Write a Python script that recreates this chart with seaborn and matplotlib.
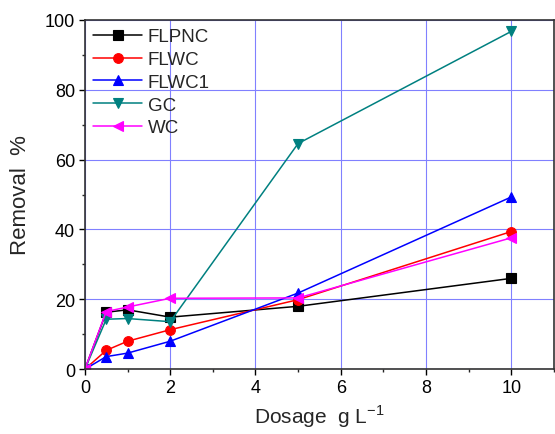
import matplotlib
matplotlib.use("Agg")
import matplotlib.pyplot as plt
import seaborn as sns
import pandas as pd
from matplotlib.ticker import MultipleLocator

dosage = [0, 0.5, 1, 2, 5, 10]
flpnc = [0, 16.3, 17.0, 14.9, 18.0, 26.0]
flwc = [0, 5.4, 8.0, 11.3, 19.9, 39.4]
flwc1 = [0, 3.6, 4.6, 8.0, 21.8, 49.3]
gc = [0, 14.3, 14.5, 13.6, 64.6, 96.7]
wc = [0, 16.5, 17.8, 20.3, 20.4, 37.6]

names = ["FLPNC", "FLWC", "FLWC1", "GC", "WC"]
series = [flpnc, flwc, flwc1, gc, wc]
colors = ["black", "red", "blue", "#008080", "magenta"]
markers = ["s", "o", "^", "v", "<"]

sns.set_theme(style="white")
plt.rcParams["font.family"] = ["Liberation Sans", "DejaVu Sans"]

fig = plt.figure(figsize=(5.55, 4.35), dpi=100)
ax = fig.add_axes([0.153, 0.149, 0.845, 0.803])

for name, vals, c, m in zip(names, series, colors, markers):
    df = pd.DataFrame({"Dosage": dosage, "Removal": vals})
    sns.lineplot(data=df, x="Dosage", y="Removal", ax=ax, color=c, marker=m,
                 markersize=7, markeredgecolor=c, markeredgewidth=0.8,
                 linewidth=1.1, label=name)

ax.set_xlim(0, 11)
ax.set_ylim(0, 100)
ax.xaxis.set_major_locator(MultipleLocator(2))
ax.xaxis.set_minor_locator(MultipleLocator(1))
ax.yaxis.set_major_locator(MultipleLocator(20))
ax.yaxis.set_minor_locator(MultipleLocator(10))
ax.grid(True, which="major", color="#8080ff", linewidth=0.8)
ax.tick_params(which="major", direction="out", length=4, width=1,
               labelsize=13, colors="black", bottom=True, left=True, pad=3)
ax.tick_params(which="minor", direction="out", length=2.5, width=1,
               bottom=True, left=True)
for s in ax.spines.values():
    s.set_color("#333333")
    s.set_linewidth(1.2)

ax.set_xlabel("Dosage  g L$^{\\mathregular{-1}}$", fontsize=15, labelpad=5)
ax.set_ylabel("Removal  %", fontsize=16, labelpad=10)

leg = ax.legend(loc="upper left", frameon=False, fontsize=13.5,
                handlelength=2.6, handletextpad=0.3, labelspacing=0.3,
                borderaxespad=0.3, borderpad=0.15)

fig.savefig("out.png", dpi=100)
